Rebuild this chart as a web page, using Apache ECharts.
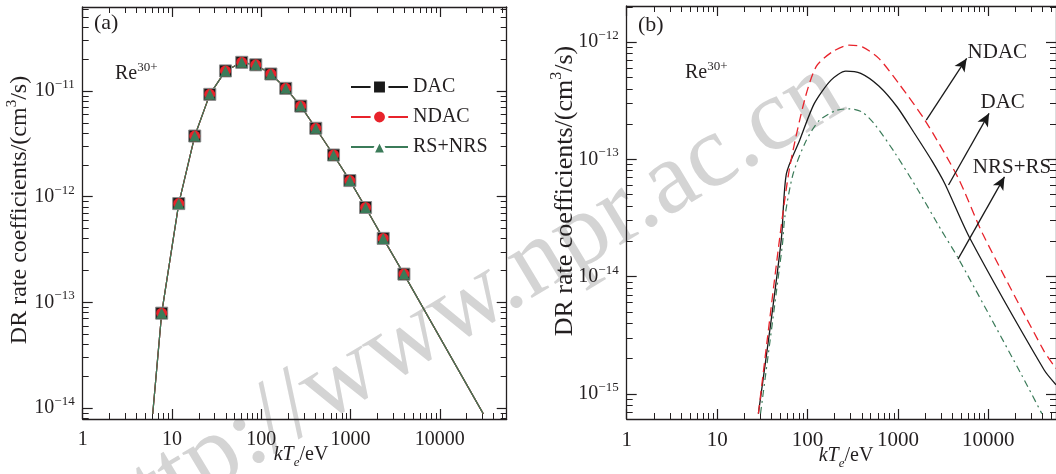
<!DOCTYPE html>
<html>
<head>
<meta charset="utf-8">
<script src="https://cdn.jsdelivr.net/npm/echarts@6/dist/echarts.min.js"></script>
<style>
  html, body { margin: 0; padding: 0; background: #ffffff; }
  #chart { width: 1056px; height: 474px; }
</style>
</head>
<body>
<div id="chart"></div>
<script>
// ---- Panel (a): rate coefficients of Re30+ (marked curves) ----
const tempA = [6.08, 7.66, 11.9, 17.97, 26.5, 39.7, 60.4, 86.7, 128, 188, 277, 408, 645, 982, 1473, 2320, 3960, 30700];
const dacA  = [8.8e-15, 7.9e-14, 8.6e-13, 3.75e-12, 9.3e-12, 1.55e-11, 1.87e-11, 1.77e-11, 1.45e-11, 1.06e-11, 7.2e-12, 4.44e-12, 2.48e-12, 1.42e-12, 7.9e-13, 4.03e-13, 1.85e-13, 8.8e-15];
const ndacA = [8.8e-15, 7.9e-14, 8.6e-13, 3.75e-12, 9.3e-12, 1.55e-11, 1.87e-11, 1.77e-11, 1.45e-11, 1.06e-11, 7.2e-12, 4.44e-12, 2.48e-12, 1.42e-12, 7.9e-13, 4.03e-13, 1.85e-13, 8.8e-15];
const rsA   = [8.8e-15, 7.9e-14, 8.6e-13, 3.75e-12, 9.3e-12, 1.55e-11, 1.87e-11, 1.77e-11, 1.45e-11, 1.06e-11, 7.2e-12, 4.44e-12, 2.48e-12, 1.42e-12, 7.9e-13, 4.03e-13, 1.85e-13, 8.8e-15];

// ---- Panel (b): DAC / NDAC / NRS+RS curves ----
const dacBx  = [28.6, 40, 51.5, 58.4, 81.7, 119, 182, 265, 388, 615, 977, 1485, 2363, 3305, 6210, 41500, 56100];
const dacBy  = [6.8e-16, 4.5e-15, 2.15e-14, 7.55e-14, 1.45e-13, 3.0e-13, 4.74e-13, 5.66e-13, 5.41e-13, 4.22e-13, 2.81e-13, 1.72e-13, 9.8e-14, 6.2e-14, 2.15e-14, 1.6e-15, 1.2e-15];
const ndacBx = [28.6, 49.3, 63.5, 92.7, 125, 190, 288, 404, 615, 1018, 1995, 4620, 8690, 41200, 56100];
const ndacBy = [6.8e-16, 2.16e-14, 8.55e-14, 3.2e-13, 6.2e-13, 8.3e-13, 9.4e-13, 9.1e-13, 7.26e-13, 4.45e-13, 2.15e-13, 7.0e-14, 2.31e-14, 2.33e-15, 1.65e-15];
const rsBx   = [30.2, 52.8, 56, 69.2, 96.8, 135, 206, 288, 404, 565, 937, 1686, 3040, 4620, 23400, 39100];
const rsBy   = [6.8e-16, 1.89e-14, 3.2e-14, 7.5e-14, 1.45e-13, 2.15e-13, 2.61e-13, 2.7e-13, 2.53e-13, 1.95e-13, 1.12e-13, 5.4e-14, 2.47e-14, 1.45e-14, 1.45e-15, 6.8e-16];

// annotation arrows in panel (b): from a curve point to its label
const arrowNames = ['NDAC', 'DAC', 'NRS+RS'];
const arrowFrom  = [[2060, 2.16e-13], [3630, 6.05e-14], [4620, 1.41e-14]];
const arrowTo    = [[5760, 7.26e-13], [10200, 2.47e-13], [15100, 7.1e-14]];
const labelAt    = [[5900, 8.22e-13], [8200, 3.08e-13], [6750, 8.55e-14]];

// axis ticks
const xTicks  = [1, 10, 100, 1000, 10000];
const yTicksA = [1e-14, 1e-13, 1e-12, 1e-11];
const yTicksB = [1e-15, 1e-14, 1e-13, 1e-12];

const SERIF = "'Liberation Serif', 'DejaVu Serif', serif";
const INK = '#231f20';
const BLACK = '#1a1a1a', RED = '#e8232b', GREEN = '#3b7b59';

const X_MIN = 0.999, X_MAX = 56100;
const YA_MIN = 7.87e-15, YA_MAX = 6.24e-11;
const YB_MIN = 6.12e-16, YB_MAX = 2.03e-12;

function minorValues(lo, hi) {
  const out = [];
  for (let e = Math.floor(Math.log10(lo)) - 1; e <= Math.ceil(Math.log10(hi)); e++) {
    for (let m = 2; m <= 9; m++) {
      const v = m * Math.pow(10, e);
      if (v >= lo && v <= hi) out.push(v);
    }
  }
  return out;
}

const xFmt = v => String(Math.round(v));
const yFmt = v => '10{sup|\u2212' + (-Math.round(Math.log10(v))) + '}';

const xLabelStyle = { margin: 11, fontSize: 20, fontFamily: SERIF, color: INK };
const yLabelStyle = {
  margin: 8, fontSize: 20, fontFamily: SERIF, color: INK, lineHeight: 26,
  rich: { sup: { fontSize: 13, fontFamily: SERIF, color: INK, lineHeight: 14, verticalAlign: 'top' } }
};

// one log axis drawn twice: long ticks at decades, short ticks in between
function axisPair(gridIndex, position, min, max, majors, fmt, labelStyle) {
  const base = {
    type: 'log', logBase: 10, gridIndex, position, min, max,
    splitLine: { show: false }, minorTick: { show: false }, minorSplitLine: { show: false }
  };
  const major = Object.assign({}, base, {
    axisLine: { show: true, onZero: false, lineStyle: { color: INK, width: 1.3 } },
    axisTick: { show: true, inside: true, length: 10, customValues: majors, lineStyle: { color: INK, width: 1.2 } },
    axisLabel: fmt ? Object.assign({ show: true, customValues: majors, formatter: fmt }, labelStyle) : { show: false }
  });
  const minor = Object.assign({}, base, {
    axisLine: { show: false },
    axisTick: { show: true, inside: true, length: 6, customValues: minorValues(min, max), lineStyle: { color: INK, width: 1 } },
    axisLabel: { show: false }
  });
  return [major, minor];
}

const xAxes = [
  ...axisPair(0, 'bottom', X_MIN, X_MAX, xTicks, xFmt, xLabelStyle),   // 0,1
  ...axisPair(0, 'top', X_MIN, X_MAX, xTicks, null),                   // 2,3
  ...axisPair(1, 'bottom', X_MIN, X_MAX, xTicks, xFmt, Object.assign({}, xLabelStyle, { fontSize: 21 })), // 4,5
  ...axisPair(1, 'top', X_MIN, X_MAX, xTicks, null)                    // 6,7
];
const yAxes = [
  ...axisPair(0, 'left', YA_MIN, YA_MAX, yTicksA, yFmt, yLabelStyle),  // 0,1
  ...axisPair(0, 'right', YA_MIN, YA_MAX, yTicksA, null),              // 2,3
  ...axisPair(1, 'left', YB_MIN, YB_MAX, yTicksB, yFmt, yLabelStyle),  // 4,5
  ...axisPair(1, 'right', YB_MIN, YB_MAX, yTicksB, null)               // 6,7
];

// panel (a) points: curve ends carry no marker
function markedData(xs, ys) {
  return xs.map((x, i) => {
    const item = { value: [x, ys[i]] };
    if (i === 0 || i === xs.length - 1) item.symbol = 'none';
    return item;
  });
}
function pairs(xs, ys) { return xs.map((x, i) => [x, ys[i]]); }

const seriesA = [
  { name: 'DAC', data: markedData(tempA, dacA), color: BLACK, symbol: 'rect', symbolSize: 12,
    itemStyle: { color: BLACK, borderColor: '#8c8c8c', borderWidth: 1 } },
  { name: 'NDAC', data: markedData(tempA, ndacA), color: RED, symbol: 'circle', symbolSize: 11,
    itemStyle: { color: RED } },
  { name: 'RS+NRS', data: markedData(tempA, rsA), color: GREEN, symbol: 'triangle', symbolSize: 11,
    itemStyle: { color: GREEN } }
].map(s => ({
  type: 'line', xAxisIndex: 0, yAxisIndex: 0, name: s.name, data: s.data,
  symbol: s.symbol, symbolSize: s.symbolSize, showAllSymbol: true,
  itemStyle: s.itemStyle, lineStyle: { color: s.color, width: 1.2 },
  emphasis: { disabled: true }, animation: false
}));

const seriesB = [
  { name: 'DAC', type: 'line', xAxisIndex: 4, yAxisIndex: 4, data: pairs(dacBx, dacBy),
    symbol: 'none', smooth: 0.25, lineStyle: { color: BLACK, width: 1.3 }, itemStyle: { color: BLACK },
    emphasis: { disabled: true }, animation: false,
    markLine: {
      silent: true, animation: false, label: { show: false },
      lineStyle: { color: BLACK, width: 1.3, type: 'solid' },
      emphasis: { disabled: true },
      data: arrowFrom.map((p, i) => [
        { coord: p, symbol: 'none' },
        { coord: arrowTo[i], symbol: 'arrow', symbolSize: [9, 13] }
      ])
    },
    markPoint: {
      silent: true, animation: false, symbol: 'circle', symbolSize: 0,
      label: { show: true, position: 'right', distance: 0, formatter: '{b}',
               color: INK, fontSize: 21, fontFamily: SERIF },
      data: labelAt.map((p, i) => ({ coord: p, name: arrowNames[i] }))
    }
  },
  { name: 'NDAC', type: 'line', xAxisIndex: 4, yAxisIndex: 4, data: pairs(ndacBx, ndacBy),
    symbol: 'none', smooth: 0.25, lineStyle: { color: RED, width: 1.3, type: [9, 5] }, itemStyle: { color: RED },
    emphasis: { disabled: true }, animation: false },
  { name: 'NRS+RS', type: 'line', xAxisIndex: 4, yAxisIndex: 4, data: pairs(rsBx, rsBy),
    symbol: 'none', smooth: 0.25, lineStyle: { color: GREEN, width: 1.2, type: [7, 4, 2, 4] }, itemStyle: { color: GREEN },
    emphasis: { disabled: true }, animation: false }
];

const supRich = { sup: { fontSize: 13, fontFamily: SERIF, fill: INK, lineHeight: 14, verticalAlign: 'top' } };
function plainText(x, y, text, size) {
  return { type: 'text', x, y, silent: true,
    style: { text, fill: INK, fontSize: size, fontFamily: SERIF, align: 'left', verticalAlign: 'middle' } };
}
function ionText(x, y) {
  return { type: 'text', x, y, silent: true,
    style: { text: 'Re{sup|30+}', fill: INK, fontSize: 20, fontFamily: SERIF, lineHeight: 26,
             align: 'left', verticalAlign: 'middle', rich: supRich } };
}
function yTitle(x, y, size) {
  return { type: 'text', x, y, rotation: Math.PI / 2, silent: true,
    style: { text: 'DR rate coefficients/(cm{sup|3}/s)', fill: INK, fontSize: size, fontFamily: SERIF,
             lineHeight: size + 6, align: 'center', verticalAlign: 'middle',
             rich: { sup: { fontSize: Math.round(size * 0.62), fontFamily: SERIF, fill: INK,
                            lineHeight: Math.round(size * 0.66), verticalAlign: 'top' } } } };
}
function xTitle(x, y) {
  return { type: 'text', x, y, silent: true,
    style: { text: '{it|kT}{sub|e}/eV', fill: INK, fontSize: 20, fontFamily: SERIF, lineHeight: 28,
             align: 'center', verticalAlign: 'middle',
             rich: {
               it: { fontSize: 20, fontFamily: SERIF, fontStyle: 'italic', fill: INK, lineHeight: 28 },
               sub: { fontSize: 13, fontFamily: SERIF, fontStyle: 'italic', fill: INK, lineHeight: 14, verticalAlign: 'bottom' }
             } } };
}

const chart = echarts.init(document.getElementById('chart'), null, { renderer: 'canvas' });
chart.setOption({
  backgroundColor: '#ffffff',
  animation: false,
  tooltip: { show: false },
  grid: [
    { left: 82.7, top: 7, width: 424, height: 412 },
    { left: 626.7, top: 6, width: 433.6, height: 413 }
  ],
  xAxis: xAxes,
  yAxis: yAxes,
  legend: {
    data: ['DAC', 'NDAC', 'RS+NRS'], orient: 'vertical', left: 350, top: 77, padding: 0,
    itemWidth: 57, itemHeight: 18, itemGap: 10, selectedMode: false,
    itemStyle: { borderColor: '#ffffff', borderWidth: 3.5 },
    textStyle: { color: INK, fontSize: 20, fontFamily: SERIF }
  },
  graphic: [
    { type: 'text', x: 466, y: 306, rotation: 31 * Math.PI / 180, silent: true, z: 0,
      style: { text: 'http://www.npr.ac.cn', fill: '#d4d4d4', fontSize: 103, fontFamily: SERIF,
               align: 'center', verticalAlign: 'middle' } },
    plainText(94, 23, '(a)', 22),
    plainText(638, 25, '(b)', 22),
    ionText(115, 74),
    ionText(685, 73),
    yTitle(20, 210, 24),
    yTitle(565, 191, 26),
    xTitle(301, 455),
    xTitle(846, 456)
  ],
  series: [...seriesA, ...seriesB]
});
</script>
</body>
</html>
